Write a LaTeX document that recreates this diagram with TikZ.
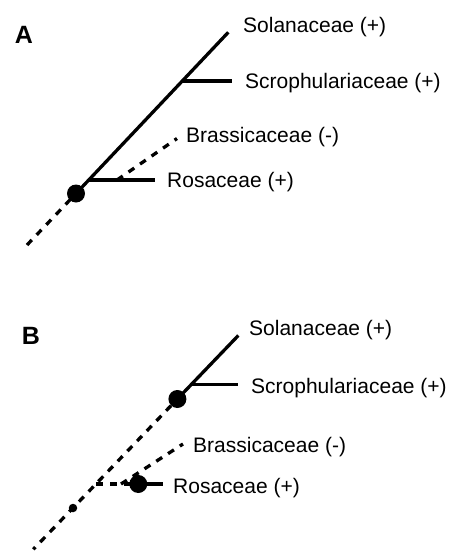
\documentclass[tikz,border=0pt]{standalone}
\usepackage{fontspec}
\setmainfont{Liberation Sans}
\begin{document}
\begin{tikzpicture}[x=1pt,y=-1pt,
  branch/.style={line width=3.3pt},
  dashbranch/.style={line width=3.3pt, dash pattern=on 7pt off 7pt},
  bigdot/.style={circle, fill=black, inner sep=0pt, minimum size=18pt},
  smalldot/.style={circle, fill=black, inner sep=0pt, minimum size=8.5pt},
  taxon/.style={anchor=base west, inner sep=0pt, font=\fontsize{21}{25}\selectfont},
  panel/.style={inner sep=0pt, font=\fontsize{25}{30}\selectfont\bfseries}]
\useasboundingbox (0,0) rectangle (452,552);

% ---------- Panel A ----------
\node[panel] (labA) at (24,35) {A};
\coordinate (rootA) at (27,245);
\coordinate (dA) at (76,193.5);
\coordinate (topA) at (228.3,32.3);
\coordinate (scA) at (182.3,81);
\coordinate (scEndA) at (231.7,81);
\coordinate (roA) at (88.8,180);
\coordinate (roEndA) at (155,180);
\coordinate (brA) at (117,180);
\coordinate (brEndA) at (177,138.5);

\node[taxon] (solA) at (243,32) {Solanaceae (+)};
\node[taxon] (scrA) at (245,88.5) {Scrophulariaceae (+)};
\node[taxon] (braA) at (186,142) {Brassicaceae (-)};
\node[taxon] (rosA) at (167,187) {Rosaceae (+)};

\draw[dashbranch] (rootA) -- (dA);
\draw[branch] (dA) -- (topA);
\draw[branch] (scA) -- (scEndA);
\draw[branch] (roA) -- (roEndA);
\draw[dashbranch] (brA) -- (brEndA);
\node[bigdot] (dotA) at (dA) {};

% ---------- Panel B ----------
\node[panel] (labB) at (31,336) {B};
\coordinate (rootB) at (33.3,549.3);
\coordinate (sB) at (73,508);
\coordinate (dB) at (177.4,399);
\coordinate (topB) at (238.3,335.5);
\coordinate (scB) at (191.3,384.5);
\coordinate (scEndB) at (238.3,384.5);
\coordinate (roB) at (96,484);
\coordinate (rdB) at (138.3,484);
\coordinate (roEndB) at (163.3,484);
\coordinate (brB) at (121,484);
\coordinate (brEndB) at (183,444);

\node[taxon] (solB) at (249,335) {Solanaceae (+)};
\node[taxon] (scrB) at (251,393) {Scrophulariaceae (+)};
\node[taxon] (braB) at (193,452) {Brassicaceae (-)};
\node[taxon] (rosB) at (173,493) {Rosaceae (+)};

\draw[dashbranch, dash phase=4pt] (rootB) -- (dB);
\draw[branch] (dB) -- (topB);
\draw[branch] (scB) -- (scEndB);
\draw[dashbranch] (roB) -- (rdB);
\draw[branch] (rdB) -- (roEndB);
\draw[dashbranch] (brB) -- (brEndB);
\node[bigdot] (dotB) at (dB) {};
\node[bigdot] (dotR) at (rdB) {};
\node[smalldot] (dotS) at (sB) {};
\end{tikzpicture}
\end{document}
